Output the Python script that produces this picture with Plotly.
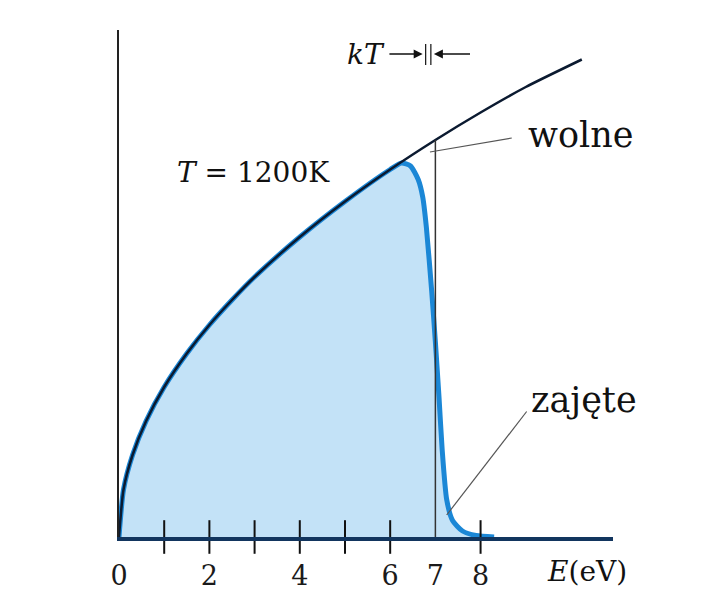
import plotly.graph_objects as go

# ---- data ----
# density of states curve n_o(E) (arbitrary units)
DOS_E = [0, 0.1, 0.3, 0.6, 1.0, 1.5, 2.0, 2.5, 3.0, 4.0, 5.0, 6.0, 7.0, 8.0, 9.0, 10.24]
DOS_N = [0, 0.95, 1.64, 2.32, 3.0, 3.67, 4.24, 4.74, 5.2, 6.0, 6.71, 7.35, 7.94, 8.49, 9.0, 9.55]

# occupied states at T = 1200 K
OCC_E = [0, 0.1, 0.3, 0.6, 1.0, 1.5, 2.0, 2.5, 3.0, 4.0, 5.0, 6.0, 6.25, 6.45, 6.62, 6.72,
         6.8, 6.92, 7.0, 7.08, 7.15, 7.25, 7.38, 7.6, 7.9, 8.3]
OCC_N = [0, 0.95, 1.64, 2.32, 3.0, 3.67, 4.24, 4.74, 5.2, 6.0, 6.71, 7.35, 7.48, 7.42, 7.15, 6.8,
         6.2, 4.9, 3.9, 2.8, 1.75, 0.75, 0.33, 0.12, 0.03, 0]

TICK_E = [1, 2, 3, 4, 5, 6, 8]
LABEL_E = [0, 2, 4, 6, 7, 8]
LABEL_TEXT = ["0", "2", "4", "6", "7", "8"]
FERMI_E = 7.0
KT_BOUNDS = [6.785, 6.90]

SERIF = "DejaVu Serif"
NAVY = "#12355e"
BLUE = "#1b87d6"
FILL = "#c3e2f7"

fig = go.Figure()

# filled occupied area
fig.add_trace(go.Scatter(x=OCC_E, y=OCC_N, mode="lines", line=dict(color=BLUE, width=5, shape="spline", smoothing=0.6),
                         fill="tozeroy", fillcolor=FILL, hoverinfo="skip", cliponaxis=False))
# DOS curve
fig.add_trace(go.Scatter(x=DOS_E, y=DOS_N, mode="lines", line=dict(color="#0b1a30", width=2.5, shape="spline", smoothing=0.6),
                         hoverinfo="skip", cliponaxis=False))
# Fermi level line
fermi_top = DOS_N[DOS_E.index(FERMI_E)]
fig.add_trace(go.Scatter(x=[FERMI_E, FERMI_E], y=[0, fermi_top], mode="lines",
                         line=dict(color="#333333", width=1.5), hoverinfo="skip"))
# tick marks crossing the axis
fig.add_trace(go.Scatter(x=TICK_E, y=[0] * len(TICK_E), mode="markers",
                         marker=dict(symbol="line-ns", size=24, line=dict(color="#111111", width=2)),
                         hoverinfo="skip", cliponaxis=False))

fig.update_layout(
    width=706, height=593,
    margin=dict(l=119, r=93, t=30, b=56),
    paper_bgcolor="white", plot_bgcolor="white",
    showlegend=False,
    xaxis=dict(range=[0, 10.93], showgrid=False, zeroline=False, showline=True, linecolor=NAVY, linewidth=3.5,
               tickvals=LABEL_E, ticktext=LABEL_TEXT, ticks="", ticklabelstandoff=12, automargin=False,
               tickfont=dict(family=SERIF, size=27, color="#1a1a1a")),
    yaxis=dict(range=[0, 10.14], showgrid=False, zeroline=False, showline=True, linecolor="#222222", linewidth=1.5,
               showticklabels=False, ticks="", automargin=False),
)

def ann(text, x, y, size, ref="data"):
    xr, yr = ("x", "y") if ref == "data" else ("paper", "paper")
    fig.add_annotation(x=x, y=y, xref=xr, yref=yr, text=text, showarrow=False,
                       xanchor="center", yanchor="middle",
                       font=dict(family=SERIF, size=size, color="#111111"))

ann("<i>n</i><sub>o</sub>(<i>E</i>)", -1.13, 8.45, 30)
ann("<i>T</i> = 1200K", 2.98, 7.3, 28)
ann("<i>kT</i>", 5.46, 9.66, 28)
ann("wolne", 10.22, 8.05, 35)
ann("zajęte", 10.28, 2.75, 35)
ann("<i>E</i>(eV)", 0.947, -0.069, 28, ref="paper")

# kT arrows
fig.add_annotation(x=KT_BOUNDS[0], y=9.66, ax=5.95, ay=9.66, xref="x", yref="y", axref="x", ayref="y",
                   text="", showarrow=True, arrowhead=2, arrowsize=1.2, arrowwidth=1.5, arrowcolor="#111111", standoff=3)
fig.add_annotation(x=KT_BOUNDS[1], y=9.66, ax=7.80, ay=9.66, xref="x", yref="y", axref="x", ayref="y",
                   text="", showarrow=True, arrowhead=2, arrowsize=1.2, arrowwidth=1.5, arrowcolor="#111111", standoff=3)
for xb in KT_BOUNDS:
    fig.add_shape(type="line", x0=xb, x1=xb, y0=9.44, y1=9.86, xref="x", yref="y",
                  line=dict(color="#111111", width=1.2))

# leader lines
fig.add_shape(type="line", x0=6.88, y0=7.7, x1=8.69, y1=7.98, xref="x", yref="y",
              line=dict(color="#555555", width=1.2))
fig.add_shape(type="line", x0=7.25, y0=0.44, x1=9.02, y1=2.51, xref="x", yref="y",
              line=dict(color="#555555", width=1.2))

fig.write_html("out.html")
